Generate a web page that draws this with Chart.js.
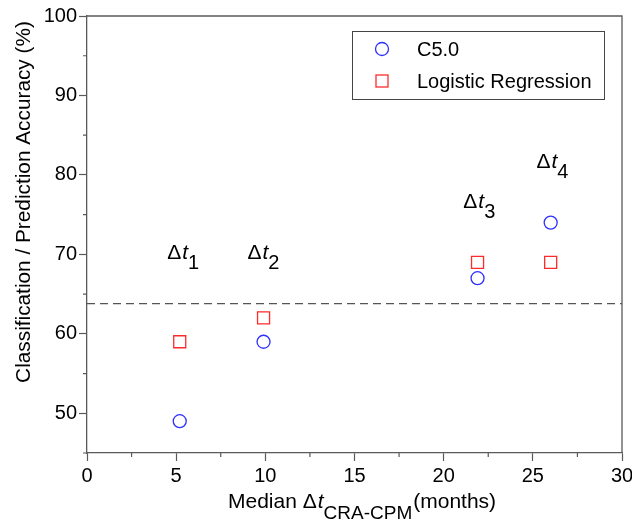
<!DOCTYPE html>
<html>
<head>
<meta charset="utf-8">
<script src="https://cdn.jsdelivr.net/npm/chart.js@4"></script>
<style>
  body { margin: 0; background: #fff; }
  canvas { display: block; }
</style>
</head>
<body>
<canvas id="chart" width="632" height="521"></canvas>
<script>
const FONT = '"Liberation Sans", Arial, sans-serif';
const AXIS_COLOR = '#5a5a5a';

// data
const medianDt = [5.2, 9.9, 21.9, 26.0];
const c50Accuracy = [49, 59, 67, 74];
const logRegAccuracy = [59, 62, 69, 69];
const baselineAccuracy = 63.8;

const xMajorTicks = [0, 5, 10, 15, 20, 25, 30];
const xMinorTicks = [2.5, 7.5, 12.5, 17.5, 22.5, 27.5];
const yMajorTicks = [50, 60, 70, 80, 90, 100];
const yMinorTicks = [45, 55, 65, 75, 85, 95];

// Δt labels (left edge x, baseline y) in data units
const labelX = [4.5, 9.0, 21.1, 25.2];
const labelY = [69.4, 69.4, 75.8, 80.9];
const labelSub = ['1', '2', '3', '4'];

function drawDeltaT(ctx, x, y, size, sub, subSize, subDrop) {
  ctx.textAlign = 'left';
  ctx.textBaseline = 'alphabetic';
  ctx.font = size + 'px ' + FONT;
  ctx.fillText('\u0394', x, y);
  x += ctx.measureText('\u0394').width + 1;
  ctx.font = 'italic ' + size + 'px ' + FONT;
  ctx.fillText('t', x, y);
  x += ctx.measureText('t').width;
  ctx.font = subSize + 'px ' + FONT;
  ctx.fillText(sub, x, y + subDrop);
  return x + ctx.measureText(sub).width;
}

const decorations = {
  id: 'decorations',
  afterDraw(chart) {
    const { ctx, chartArea: a, scales: { x, y } } = chart;
    ctx.save();

    // top and right frame
    ctx.strokeStyle = AXIS_COLOR;
    ctx.lineWidth = 1.3;
    ctx.beginPath();
    ctx.moveTo(a.left, a.top);
    ctx.lineTo(a.right, a.top);
    ctx.lineTo(a.right, a.bottom);
    ctx.stroke();

    // minor ticks
    ctx.lineWidth = 1.2;
    ctx.beginPath();
    xMinorTicks.forEach(v => {
      const px = x.getPixelForValue(v);
      ctx.moveTo(px, a.bottom);
      ctx.lineTo(px, a.bottom + 4);
    });
    yMinorTicks.forEach(v => {
      const py = y.getPixelForValue(v);
      ctx.moveTo(a.left, py);
      ctx.lineTo(a.left - 4, py);
    });
    ctx.stroke();

    // Δt labels
    ctx.fillStyle = '#000';
    labelX.forEach((v, i) => {
      drawDeltaT(ctx, x.getPixelForValue(v), y.getPixelForValue(labelY[i]), 21, labelSub[i], 20, 10);
    });

    // legend box
    ctx.strokeStyle = '#444';
    ctx.lineWidth = 1;
    ctx.strokeRect(352.5, 31.5, 252, 68);
    ctx.lineWidth = 1.3;
    ctx.strokeStyle = '#2e2eff';
    ctx.beginPath();
    ctx.arc(382, 49, 6.5, 0, Math.PI * 2);
    ctx.stroke();
    ctx.strokeStyle = '#ff2a2a';
    ctx.strokeRect(376, 75, 12, 12);
    ctx.fillStyle = '#000';
    ctx.font = '20px ' + FONT;
    ctx.textBaseline = 'middle';
    ctx.fillText('C5.0', 417, 50);
    ctx.fillText('Logistic Regression', 417, 82);

    // x axis title
    ctx.textBaseline = 'alphabetic';
    let tx = 228;
    const ty = 508;
    ctx.font = '21px ' + FONT;
    ctx.fillText('Median ', tx, ty);
    tx += ctx.measureText('Median ').width;
    tx = drawDeltaT(ctx, tx, ty, 21, 'CRA-CPM', 19, 11);
    ctx.font = '21px ' + FONT;
    ctx.fillText('(months)', tx + 1, ty);

    // y axis title
    ctx.translate(24, 202);
    ctx.rotate(-Math.PI / 2);
    ctx.textAlign = 'center';
    ctx.textBaseline = 'middle';
    ctx.font = '20.8px ' + FONT;
    ctx.fillText('Classification / Prediction Accuracy (%)', 0, 0);

    ctx.restore();
  }
};

const tickFont = { family: FONT, size: 20 };

new Chart(document.getElementById('chart').getContext('2d'), {
  type: 'scatter',
  data: {
    datasets: [
      {
        label: 'C5.0',
        data: medianDt.map((v, i) => ({ x: v, y: c50Accuracy[i] })),
        pointStyle: 'circle',
        pointRadius: 6.5,
        borderColor: '#2e2eff',
        backgroundColor: 'rgba(0,0,0,0)',
        borderWidth: 1.3,
      },
      {
        label: 'Logistic Regression',
        data: medianDt.map((v, i) => ({ x: v, y: logRegAccuracy[i] })),
        pointStyle: 'rect',
        pointRadius: 8.5,
        borderColor: '#ff2a2a',
        backgroundColor: 'rgba(0,0,0,0)',
        borderWidth: 1.3,
      },
      {
        type: 'line',
        label: 'baseline',
        data: [{ x: 0, y: baselineAccuracy }, { x: 30, y: baselineAccuracy }],
        borderColor: '#555',
        borderWidth: 1.3,
        borderDash: [8, 5],
        pointRadius: 0,
      }
    ]
  },
  options: {
    responsive: false,
    animation: false,
    layout: { padding: { top: 16, right: 10, left: 0, bottom: 0 } },
    plugins: {
      legend: { display: false },
      tooltip: { enabled: false }
    },
    scales: {
      x: {
        type: 'linear',
        min: 0,
        max: 30,
        afterBuildTicks: axis => { axis.ticks = xMajorTicks.map(v => ({ value: v })); },
        afterFit: scale => {
          scale.height = 68;
          scale.paddingLeft = 0;
          scale.paddingRight = 0;
        },
        grid: { drawOnChartArea: false, tickLength: 8, tickColor: AXIS_COLOR, tickWidth: 1.2 },
        border: { color: AXIS_COLOR, width: 1.3 },
        ticks: { color: '#000', font: tickFont, padding: 3, maxRotation: 0 }
      },
      y: {
        min: 45,
        max: 100,
        afterBuildTicks: axis => { axis.ticks = yMajorTicks.map(v => ({ value: v })); },
        afterFit: scale => {
          scale.width = 87;
          scale.paddingTop = 0;
          scale.paddingBottom = 0;
        },
        grid: { drawOnChartArea: false, tickLength: 8, tickColor: AXIS_COLOR, tickWidth: 1.2 },
        border: { color: AXIS_COLOR, width: 1.3 },
        ticks: { color: '#000', font: tickFont, padding: 2 }
      }
    }
  },
  plugins: [decorations]
});
</script>
</body>
</html>
